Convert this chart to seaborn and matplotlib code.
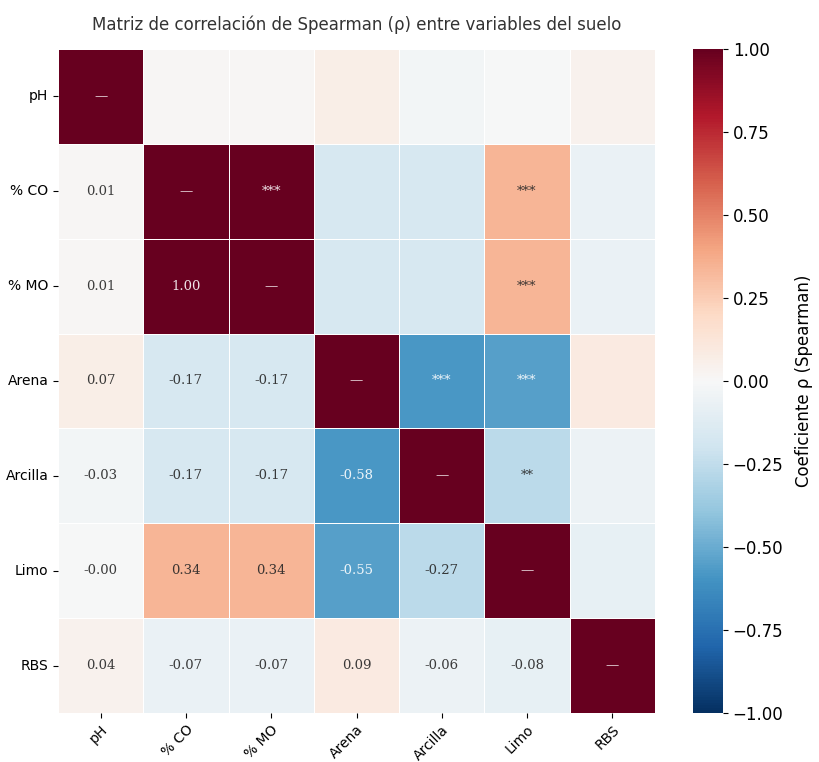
import matplotlib
matplotlib.use("Agg")
import matplotlib.pyplot as plt
import numpy as np
import pandas as pd
import seaborn as sns

variables = ["pH", "% CO", "% MO", "Arena", "Arcilla", "Limo", "RBS"]

# lower triangle of Spearman rho, row by row (row i has i values)
rho_co = [0.01]
rho_mo = [0.01, 1.00]
rho_arena = [0.07, -0.17, -0.17]
rho_arcilla = [-0.03, -0.17, -0.17, -0.58]
rho_limo = [-0.004, 0.34, 0.34, -0.55, -0.27]
rho_rbs = [0.04, -0.07, -0.07, 0.09, -0.06, -0.08]

# significance marks for the upper triangle: (row, col, stars)
sig_rows = ["% CO", "% CO", "% MO", "Arena", "Arena", "Arcilla"]
sig_cols = ["% MO", "Limo", "Limo", "Arcilla", "Limo", "Limo"]
sig_stars = ["***", "***", "***", "***", "***", "**"]

n = len(variables)
rho = np.eye(n)
lower_rows = [rho_co, rho_mo, rho_arena, rho_arcilla, rho_limo, rho_rbs]
for i, row in enumerate(lower_rows, start=1):
    for j, v in enumerate(row):
        rho[i, j] = v
        rho[j, i] = v
corr = pd.DataFrame(rho, index=variables, columns=variables)

annot = pd.DataFrame("", index=variables, columns=variables)
for i in range(n):
    for j in range(n):
        if i == j:
            annot.iloc[i, j] = "\u2014"
        elif i > j:
            annot.iloc[i, j] = f"{corr.iloc[i, j]:.2f}"
for r, c, s in zip(sig_rows, sig_cols, sig_stars):
    annot.loc[r, c] = s

fig = plt.figure(figsize=(8.19, 7.62), dpi=100)
ax = fig.add_axes([58 / 819, 49 / 762, 597 / 819, 664 / 762])
cax = fig.add_axes([693 / 819, 49 / 762, 30 / 819, 664 / 762])

sns.heatmap(
    corr,
    annot=annot,
    fmt="",
    cmap="RdBu_r",
    vmin=-1,
    vmax=1,
    linewidths=0.6,
    linecolor="white",
    annot_kws={"family": "DejaVu Serif", "size": 9.5, "alpha": 0.9},
    cbar_ax=cax,
    cbar_kws={"ticks": [-1, -0.75, -0.5, -0.25, 0, 0.25, 0.5, 0.75, 1]},
    ax=ax,
)

ax.set_title("Matriz de correlación de Spearman (ρ) entre variables del suelo",
             fontsize=12, color="#333333", pad=14)
ax.set_xticklabels(variables, rotation=45, ha="right", rotation_mode="anchor", fontsize=10)
ax.set_yticklabels(variables, rotation=0, fontsize=10)
ax.set_xlabel("")
ax.set_ylabel("")

cax.tick_params(labelsize=12)
cax.set_ylabel("Coeficiente ρ (Spearman)", fontsize=12, labelpad=8)

fig.savefig("out.png", dpi=100)
